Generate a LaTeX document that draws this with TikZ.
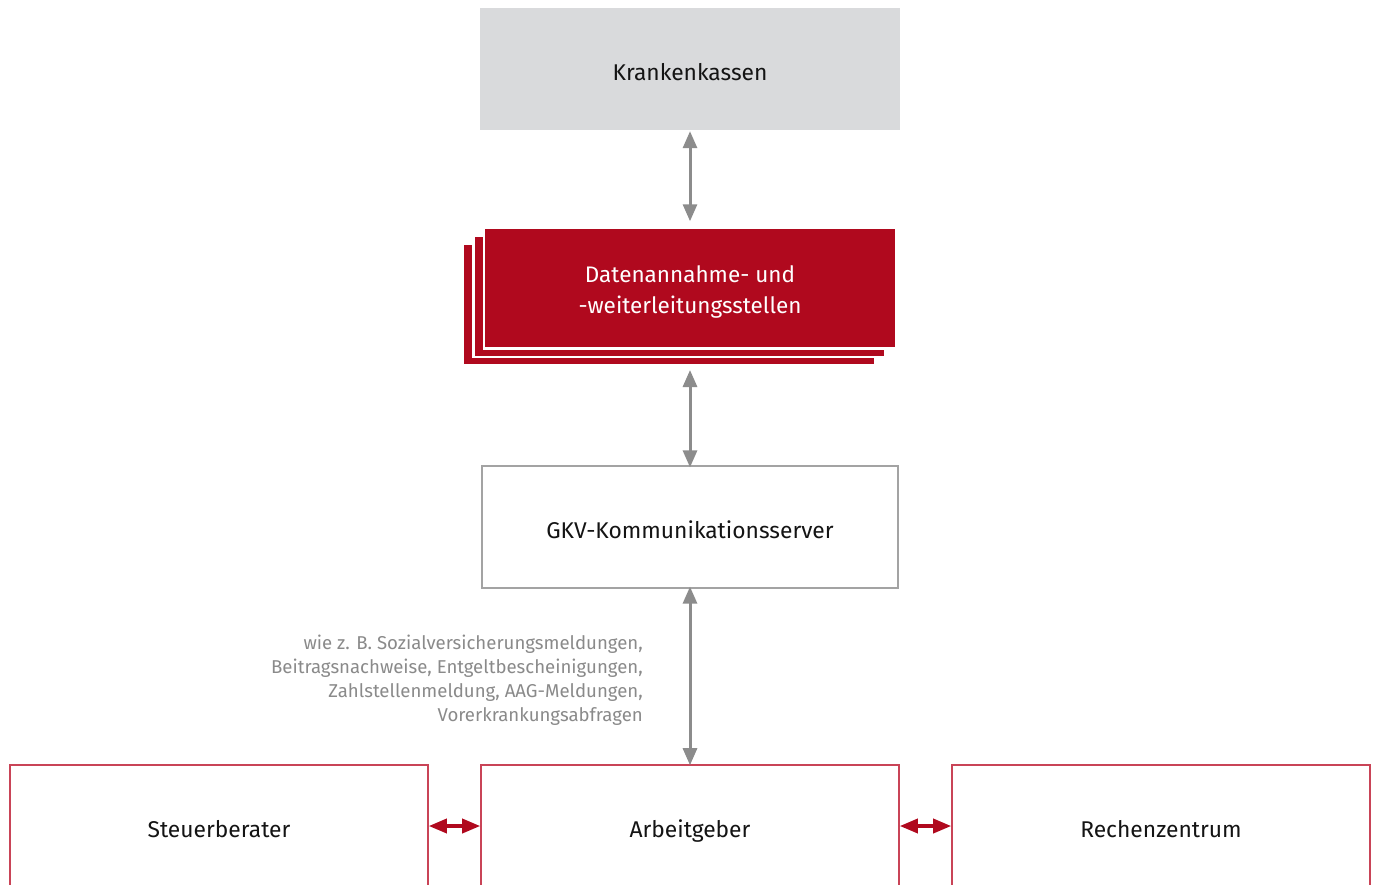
\documentclass[tikz,border=0pt]{standalone}
\usepackage{fontspec}
\setmainfont{Fira Sans}
\usetikzlibrary{arrows.meta}
\definecolor{dred}{HTML}{B0091E}
\definecolor{lred}{HTML}{C94457}
\definecolor{lgray}{HTML}{D9DADC}
\definecolor{agray}{HTML}{8C8C8C}
\definecolor{bgray}{HTML}{A3A3A3}
\definecolor{tgray}{HTML}{8A8A8A}
\definecolor{ink}{HTML}{141414}
\tikzset{
  box/.style={minimum width=418pt, minimum height=122pt, inner sep=0pt,
    align=center, text=ink, font=\fontsize{22.8}{26}\selectfont,
    text height=23pt, text depth=1pt},
  graybox/.style={box, fill=lgray},
  serverbox/.style={box, draw=bgray, line width=1.3pt, minimum width=416pt, minimum height=122pt},
  partybox/.style={box, draw=lred, line width=1.6pt},
  stackbox/.style={minimum width=412pt, minimum height=121pt, inner sep=0pt,
    fill=dred, draw=white, line width=2.5pt},
  stacktext/.style={align=center, text=white, inner sep=0pt,
    font=\fontsize{22.5}{31}\selectfont},
  grayarrow/.style={draw=agray, line width=3pt, {Triangle[length=17pt,width=14pt]}-{Triangle[length=17pt,width=14pt]}, fill=agray},
  redarrow/.style={draw=dred, line width=3.5pt, {Triangle[length=18pt,width=14pt]}-{Triangle[length=18pt,width=14pt]}, fill=dred},
}
\begin{document}
\begin{tikzpicture}[x=1pt,y=-1pt]
\clip (0,0) rectangle (1376,884);
\fill[white] (0,0) rectangle (1376,884);

% top: health insurers
\node[graybox, minimum width=420pt] (kk) at (690,69) {Krankenkassen};

% stacked data acceptance offices
\node[stackbox] (s3) at (669,304.5) {};
\node[stackbox] (s2) at (679.5,296.5) {};
\node[stackbox] (dav) at (690,288) {};
\node[stacktext] (davtext) at ([yshift=-4pt]dav.center) {Datenannahme- und\\-weiterleitungsstellen};

% communication server
\node[serverbox] (gkv) at (690,527) {GKV-Kommunikationsserver};

% bottom row
\node[partybox] (ag) at (690,826) {Arbeitgeber};
\node[partybox] (stb) at (219,826) {Steuerberater};
\node[partybox] (rz) at (1161,826) {Rechenzentrum};

% vertical exchanges
\draw[grayarrow] ([yshift=-1pt]kk.south) -- ([yshift=5pt]dav.north);
\coordinate (davb) at (690,370);
\draw[grayarrow] (davb) -- ([yshift=-2pt]gkv.north);
\draw[grayarrow] ([yshift=2pt]gkv.south) -- ([yshift=-1pt]ag.north);

% horizontal exchanges
\draw[redarrow] (stb.east) -- (ag.west);
\draw[redarrow] (ag.east) -- (rz.west);

% message types
\node[anchor=east, align=right, text=tgray, inner sep=0pt,
  font=\fontsize{18.6}{24}\selectfont] (note) at (643,680)
  {wie z. B. Sozialversicherungsmeldungen,\\Beitragsnachweise, Entgeltbescheinigungen,\\Zahlstellenmeldung, AAG-Meldungen,\\Vorerkrankungsabfragen};
\end{tikzpicture}
\end{document}
